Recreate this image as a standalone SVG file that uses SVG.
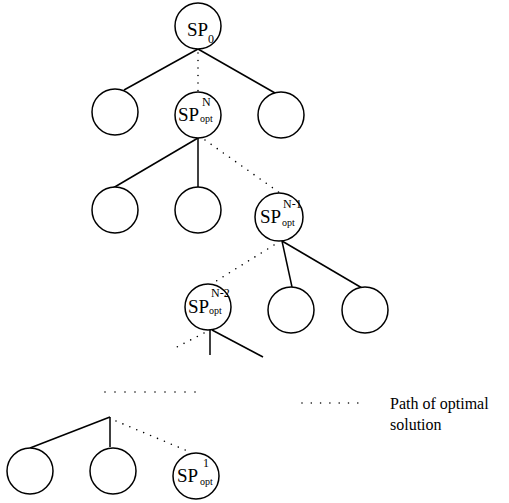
<svg xmlns="http://www.w3.org/2000/svg" width="509" height="503" viewBox="0 0 509 503">
<style>
.n{fill:#fff;stroke:#000;stroke-width:1.5}
.s{stroke:#000;stroke-width:1.5;fill:none}
.d{stroke:#000;stroke-width:1.6;fill:none;stroke-dasharray:0 7.5;stroke-linecap:round}
.t{font-family:"Liberation Serif","Times New Roman",serif;fill:#000}
.m{font-size:19px}
.sp{font-size:12px}
.sb{font-size:10px}
.lg{font-size:16px}
</style>
<rect width="509" height="503" fill="#fff"/>
<g id="connectors">
<line class="s" x1="198" y1="49" x2="124" y2="90"/>
<line class="s" x1="198" y1="49" x2="275" y2="93"/>
<line class="d" x1="198" y1="53" x2="198" y2="92"/>
<line class="s" x1="198" y1="138" x2="113" y2="188"/>
<line class="s" x1="198" y1="138" x2="198" y2="188"/>
<line class="d" x1="205" y1="140" x2="280" y2="193"/>
<line class="s" x1="282" y1="241" x2="292" y2="287"/>
<line class="s" x1="282" y1="241" x2="362" y2="288"/>
<line class="d" x1="274" y1="245" x2="213" y2="283"/>
<line class="s" x1="210" y1="330" x2="210" y2="355"/>
<line class="s" x1="212" y1="330" x2="263" y2="357"/>
<line class="d" x1="204" y1="333" x2="177" y2="347"/>
<line class="d" style="stroke-dasharray:0 10" x1="105" y1="392" x2="196" y2="392"/>
<line class="s" x1="110" y1="417" x2="30" y2="448"/>
<line class="s" x1="110" y1="417" x2="110" y2="447"/>
<line class="d" x1="116" y1="421" x2="190" y2="452"/>
<line class="d" style="stroke-dasharray:0 9.3" x1="302" y1="403" x2="360" y2="403"/>
</g>
<g id="sp0"><circle class="n" cx="198" cy="26" r="23"/><text class="t m" x="187" y="36">SP</text><text class="t sp" x="208" y="43">0</text></g>
<g id="n1a"><circle class="n" cx="115" cy="112" r="23"/></g>
<g id="spN"><circle class="n" cx="198" cy="115" r="23"/><text class="t m" x="178" y="121">SP</text><text class="t sp" x="202" y="106">N</text><text class="t sb" x="200" y="122">opt</text></g>
<g id="n1c"><circle class="n" cx="281" cy="115" r="23"/></g>
<g id="n2a"><circle class="n" cx="115" cy="210" r="23"/></g>
<g id="n2b"><circle class="n" cx="198" cy="210" r="23"/></g>
<g id="spN1"><circle class="n" cx="279" cy="217" r="24"/><text class="t m" x="260" y="223">SP</text><text class="t sp" x="283" y="208">N-1</text><text class="t sb" x="282" y="226">opt</text></g>
<g id="spN2"><circle class="n" cx="208" cy="307" r="23"/><text class="t m" x="188" y="313">SP</text><text class="t sp" x="211" y="297">N-2</text><text class="t sb" x="209" y="314">opt</text></g>
<g id="n3b"><circle class="n" cx="291" cy="310" r="23"/></g>
<g id="n3c"><circle class="n" cx="365" cy="310" r="23"/></g>
<g id="n4a"><circle class="n" cx="30" cy="471" r="23"/></g>
<g id="n4b"><circle class="n" cx="113" cy="471" r="23"/></g>
<g id="sp1"><circle class="n" cx="196" cy="476" r="23"/><text class="t m" x="177" y="482">SP</text><text class="t sp" x="203" y="467">1</text><text class="t sb" x="200" y="485">opt</text></g>
<g id="legend"><text class="t lg" x="390" y="409">Path of optimal</text><text class="t lg" x="390" y="430">solution</text></g>
</svg>
